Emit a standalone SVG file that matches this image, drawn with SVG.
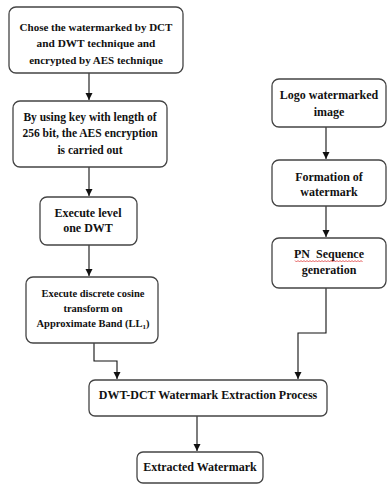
<svg xmlns="http://www.w3.org/2000/svg" width="387" height="484" viewBox="0 0 387 484">
<defs>
<marker id="arr" markerWidth="8" markerHeight="8" refX="7" refY="4" orient="auto" markerUnits="userSpaceOnUse">
<path d="M0,0.5 L7,4 L0,7.5 Z" fill="#111"/>
</marker>
<style>
.box{fill:#fff;stroke:#444;stroke-width:1.3}
.t{font-family:'Liberation Serif','Times New Roman',serif;font-weight:bold;font-size:12px;fill:#111;text-anchor:middle}
.c{fill:none;stroke:#111;stroke-width:1.1}
</style>
</defs>
<rect width="387" height="484" fill="#fff"/>
<g id="connectors">
<path class="c" d="M89,73 V100" marker-end="url(#arr)"/>
<path class="c" d="M89,167 V196" marker-end="url(#arr)"/>
<path class="c" d="M89,245 V276" marker-end="url(#arr)"/>
<path class="c" d="M94,343 V361 H117 V379" marker-end="url(#arr)"/>
<path class="c" d="M326,127 V159" marker-end="url(#arr)"/>
<path class="c" d="M326,206 V237" marker-end="url(#arr)"/>
<path class="c" d="M326,288 V333 H298 V379" marker-end="url(#arr)"/>
<path class="c" d="M197,416 V451" marker-end="url(#arr)"/>
</g>
<g id="n1">
<rect class="box" x="9" y="7" width="174" height="66" rx="7"/>
<text class="t" x="96" y="31" style="font-size:11px">Chose the watermarked by DCT</text>
<text class="t" x="96" y="47" style="font-size:11.3px">and DWT technique and</text>
<text class="t" x="96" y="64" style="font-size:11px">encrypted by AES technique</text>
</g>
<g id="n2">
<rect class="box" x="13" y="101" width="154" height="66" rx="7"/>
<text class="t" x="90" y="121" style="font-size:11.5px">By using key with length of</text>
<text class="t" x="90" y="137" style="font-size:11.5px">256 bit, the AES encryption</text>
<text class="t" x="90" y="154" style="font-size:11.5px">is carried out</text>
</g>
<g id="n3">
<rect class="box" x="40" y="197" width="97" height="48" rx="7"/>
<text class="t" x="88" y="217">Execute level</text>
<text class="t" x="88" y="232">one DWT</text>
</g>
<g id="n4">
<rect class="box" x="26" y="277" width="132" height="66" rx="7"/>
<text class="t" x="93" y="297" style="font-size:10.5px">Execute discrete cosine</text>
<text class="t" x="93" y="312" style="font-size:10.5px">transform on</text>
<text class="t" x="93" y="327" style="font-size:10.5px">Approximate Band (LL<tspan font-size="7" dy="2">1</tspan><tspan dy="-2">)</tspan></text>
</g>
<g id="n5">
<rect class="box" x="272" y="79" width="114" height="48" rx="7"/>
<text class="t" x="329" y="99">Logo watermarked</text>
<text class="t" x="329" y="116">image</text>
</g>
<g id="n6">
<rect class="box" x="272" y="160" width="114" height="46" rx="7"/>
<text class="t" x="329" y="181">Formation of</text>
<text class="t" x="329" y="196">watermark</text>
</g>
<g id="n7">
<rect class="box" x="272" y="238" width="114" height="50" rx="7"/>
<text class="t" x="329" y="258" xml:space="preserve">PN  Sequence</text>
<path d="M295,260.5 l1.5,1.5 l1.5,-1.5 l1.5,1.5 l1.5,-1.5 l1.5,1.5 l1.5,-1.5 l1.5,1.5 l1.5,-1.5 l1.5,1.5 l1.5,-1.5 l1.5,1.5 l1.5,-1.5 l1.5,1.5 l1.5,-1.5 l1.5,1.5 l1.5,-1.5 l1.5,1.5 l1.5,-1.5 l1.5,1.5 l1.5,-1.5 l1.5,1.5 l1.5,-1.5 l1.5,1.5 l1.5,-1.5 l1.5,1.5 l1.5,-1.5 l1.5,1.5 l1.5,-1.5 l1.5,1.5 l1.5,-1.5 l1.5,1.5 l1.5,-1.5 l1.5,1.5 l1.5,-1.5 l1.5,1.5 l1.5,-1.5 l1.5,1.5 l1.5,-1.5 l1.5,1.5 l1.5,-1.5 l1.5,1.5 l1.5,-1.5 l1.5,1.5 l1.5,-1.5 l1.5,1.5" fill="none" stroke="#d33" stroke-width="0.8"/>
<text class="t" x="329" y="274">generation</text>
</g>
<g id="n8">
<rect class="box" x="89" y="380" width="238" height="36" rx="6"/>
<text class="t" x="208" y="399">DWT-DCT Watermark Extraction Process</text>
</g>
<g id="n9">
<rect class="box" x="137" y="452" width="126" height="31" rx="6"/>
<text class="t" x="200" y="471">Extracted Watermark</text>
</g>
</svg>
